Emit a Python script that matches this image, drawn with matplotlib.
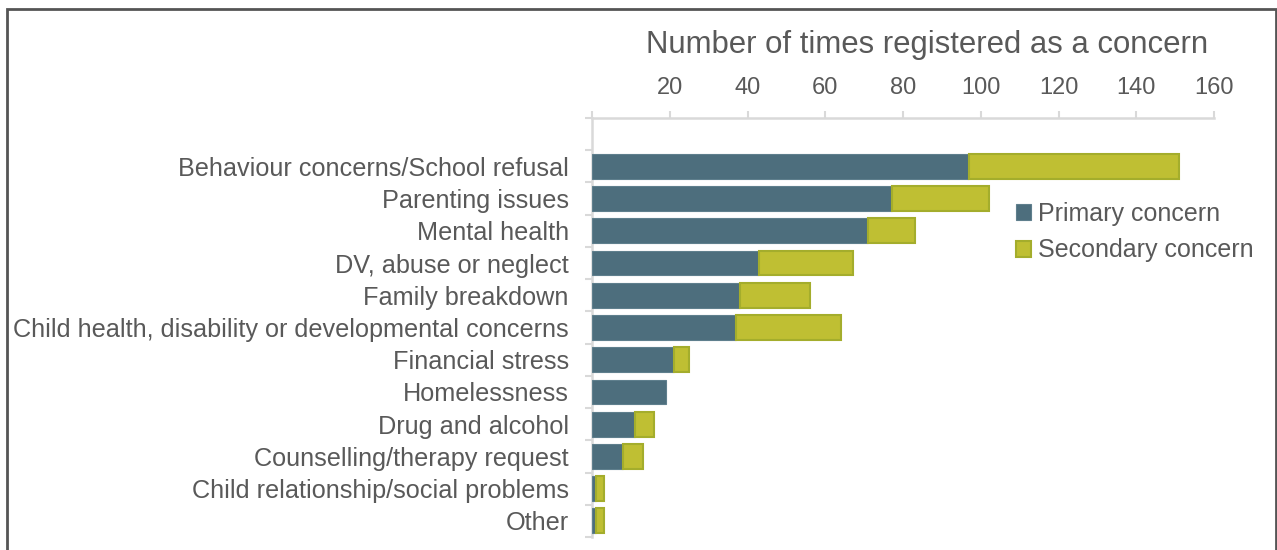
import matplotlib
matplotlib.use("Agg")
import matplotlib.pyplot as plt
from matplotlib.patches import Rectangle

categories = [
    "Behaviour concerns/School refusal",
    "Parenting issues",
    "Mental health",
    "DV, abuse or neglect",
    "Family breakdown",
    "Child health, disability or developmental concerns",
    "Financial stress",
    "Homelessness",
    "Drug and alcohol",
    "Counselling/therapy request",
    "Child relationship/social problems",
    "Other",
]
primary = [97, 77, 71, 43, 38, 37, 21, 19, 11, 8, 1, 1]
secondary = [54, 25, 12, 24, 18, 27, 4, 0, 5, 5, 2, 2]
xticks = [20, 40, 60, 80, 100, 120, 140, 160]

plt.rcParams['font.family'] = ['Liberation Sans', 'DejaVu Sans']
text_color = "#595959"
axis_color = "#d9d9d9"
c_primary = "#4d6e7d"
c_secondary = "#bfbf33"
e_secondary = "#a4ad2c"

fig = plt.figure(figsize=(12.77, 5.5), dpi=100)
ax = fig.add_axes([0.4638, 0.0236, 0.9507 - 0.4638, 0.7855 - 0.0236])

n = len(categories)
ypos = [n - 1 - i for i in range(n)]
ax.barh(ypos, primary, height=0.77, color=c_primary, edgecolor="#5f7f8d",
        linewidth=0.8, label="Primary concern", zorder=3)
sec_edges = [e_secondary if v > 0 else "none" for v in secondary]
ax.barh(ypos, secondary, left=primary, height=0.77, color=c_secondary,
        edgecolor=sec_edges, linewidth=1.5, label="Secondary concern", zorder=3)

ax.set_xlim(0, 160)
ax.set_ylim(-0.5, n + 0.5)

ax.xaxis.tick_top()
ax.xaxis.set_label_position('top')
ax.set_xticks([0] + xticks)
ax.set_xticklabels([""] + [str(v) for v in xticks])
ax.set_xlabel("Number of times registered as a concern", fontsize=22.4,
              color=text_color, labelpad=17, x=0.538)

ax.set_yticks(ypos)
ax.set_yticklabels(categories)
ax.set_yticks([k - 0.5 for k in range(n + 2)], minor=True)

ax.tick_params(axis='x', which='major', length=5, width=1.5, color=axis_color,
               labelsize=17, labelcolor=text_color, pad=9)
ax.tick_params(axis='y', which='major', length=0, labelsize=18.2,
               labelcolor=text_color, pad=17)
ax.tick_params(axis='y', which='minor', length=5, width=1.5, color=axis_color,
               direction='out')

for s in ['right', 'bottom']:
    ax.spines[s].set_visible(False)
for s in ['top', 'left']:
    ax.spines[s].set_color(axis_color)
    ax.spines[s].set_linewidth(1.8)

handles = [Rectangle((0, 0), 1, 1, facecolor=c_primary, edgecolor="#5f7f8d", linewidth=0.8),
           Rectangle((0, 0), 1, 1, facecolor=c_secondary, edgecolor=e_secondary, linewidth=1.5)]
fig.legend(handles, ["Primary concern", "Secondary concern"],
           loc='upper left', bbox_to_anchor=(1016 / 1277, 1 - 202 / 550),
           frameon=False, fontsize=18, handlelength=0.6, handleheight=0.6,
           handletextpad=0.3, labelspacing=0.5, labelcolor=text_color,
           borderaxespad=0, borderpad=0)

# outer frame
fig.patches.append(Rectangle((7 / 1277, -0.05), (1276 - 7) / 1277, 1.05 - 9 / 550,
                             transform=fig.transFigure, fill=False,
                             edgecolor="#555555", linewidth=2))

fig.savefig("out.png", dpi=100)
